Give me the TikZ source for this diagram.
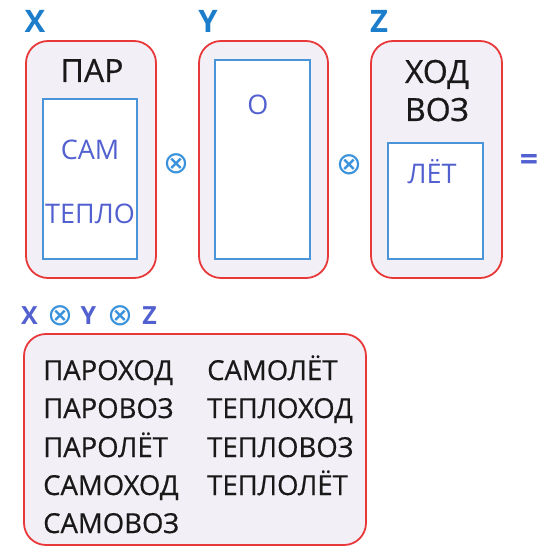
\documentclass[tikz,border=0pt]{standalone}
\usepackage{fontspec}
\setmainfont{Open Sans}
\newfontfamily\opfont{DejaVu Sans}
\newfontfamily\wordfont[FakeBold=0.6]{Open Sans}
\definecolor{boxred}{HTML}{E8383A}
\definecolor{boxfill}{HTML}{F2F0F6}
\definecolor{innerblue}{HTML}{4A94D8}
\definecolor{wordblue}{HTML}{5260D0}
\definecolor{letterblue}{HTML}{1C7DCB}
\definecolor{opblue}{HTML}{3A92DC}
\begin{document}
\begin{tikzpicture}[x=1pt, y=-1pt,
  outerbox/.style={shape=rectangle, draw=boxred, fill=boxfill, line width=1.8pt, rounded corners=22pt},
  innerbox/.style={shape=rectangle, draw=innerblue, fill=white, line width=1.3pt},
  setname/.style={anchor=base, text=letterblue, font=\bfseries\fontsize{31}{34}\selectfont},
  stem/.style={anchor=base, text=black!90, font=\wordfont\fontsize{32}{34}\selectfont},
  part/.style={anchor=base, text=wordblue, font=\fontsize{27}{30}\selectfont},
  opsign/.style={text=opblue, font=\opfont\fontsize{31}{34}\selectfont, inner sep=0pt},
  word/.style={anchor=base west, text=black!90, font=\wordfont\fontsize{27.5}{30}\selectfont, inner sep=0pt}]
\useasboundingbox (0,0) rectangle (545,556);
% set X
\node[setname] (lX) at (35,33) {X};
\node[outerbox, minimum width=130pt, minimum height=237pt] (X) at (91,159.5) {};
\node[innerbox, minimum width=94pt, minimum height=160pt] (Xin) at (90,179) {};
\node[stem] (par) at (92,82) {ПАР};
\node[part] (sam) at (90,160) {САМ};
\node[part] (teplo) at (90,223) {ТЕПЛО};
% set Y
\node[setname] (lY) at (208,33) {Y};
\node[outerbox, minimum width=129pt, minimum height=237pt] (Y) at (263.5,159.5) {};
\node[innerbox, minimum width=95pt, minimum height=199pt] (Yin) at (262.5,159.5) {};
\node[part] (o) at (258,115) {О};
% set Z
\node[setname] (lZ) at (379,33) {Z};
\node[outerbox, minimum width=131pt, minimum height=237pt] (Z) at (436.5,159.5) {};
\node[innerbox, minimum width=95pt, minimum height=116pt] (Zin) at (435.5,201) {};
\node[stem] (hod) at (437,83) {ХОД};
\node[stem] (voz) at (437,121) {ВОЗ};
\node[part] (let) at (432,183) {ЛЁТ};
% operators
\node[opsign] (op1) at (176.5,164) {⊗};
\node[opsign] (op2) at (349,165) {⊗};
\node[text=wordblue, font=\bfseries\fontsize{32}{34}\selectfont, inner sep=0pt] (eq) at (529,163) {=};
% product
\node[setname, text=wordblue, font=\bfseries\fontsize{25}{28}\selectfont] (pX) at (29.5,324) {X};
\node[opsign] (pop1) at (60,316) {⊗};
\node[setname, text=wordblue, font=\bfseries\fontsize{25}{28}\selectfont] (pY) at (88.5,324) {Y};
\node[opsign] (pop2) at (120,316) {⊗};
\node[setname, text=wordblue, font=\bfseries\fontsize{25}{28}\selectfont] (pZ) at (149.5,324) {Z};
\node[outerbox, minimum width=342pt, minimum height=211pt] (P) at (195,439.5) {};
\node[word] (w1) at (43,380) {ПАРОХОД};
\node[word] (w2) at (43,418) {ПАРОВОЗ};
\node[word] (w3) at (43,457) {ПАРОЛЁТ};
\node[word] (w4) at (43,495) {САМОХОД};
\node[word] (w5) at (43,533) {САМОВОЗ};
\node[word] (w6) at (207,380) {САМОЛЁТ};
\node[word] (w7) at (207,418) {ТЕПЛОХОД};
\node[word] (w8) at (207,457) {ТЕПЛОВОЗ};
\node[word] (w9) at (207,495) {ТЕПЛОЛЁТ};
\end{tikzpicture}
\end{document}
